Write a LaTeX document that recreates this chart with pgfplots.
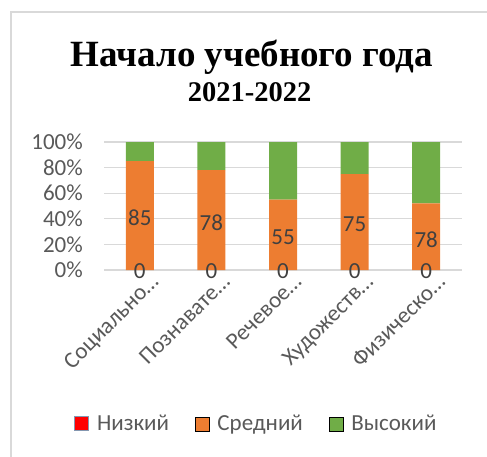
\documentclass[border=0pt]{standalone}
\usepackage{pgfplots}
\pgfplotsset{compat=1.18}
\usepackage{pgfplotstable}
\usepackage{fontspec}
\setmainfont{Carlito}
\newfontfamily\titlefont{Liberation Serif}
\definecolor{cOrange}{HTML}{ED7D31}
\definecolor{cGreen}{HTML}{70AD47}
\definecolor{cRed}{HTML}{FF0000}
\definecolor{cBorder}{HTML}{8497B0}
\definecolor{cGrid}{HTML}{D9D9D9}
\definecolor{cTick}{HTML}{595959}
\definecolor{cLab}{HTML}{404040}
\definecolor{cFrame}{HTML}{D9D9D9}
\pgfplotstableread{
x low mid high lab
0 0 85 15 85
1 0 78 22 78
2 0 55 45 55
3 0 75 25 75
4 0 52 48 78
}\datatable
\begin{document}
\begin{tikzpicture}[x=1pt,y=1pt]
\useasboundingbox (0,0) rectangle (487,456);
\draw[cFrame, line width=1.2pt] (11,-30) -- (11,444) -- (560,444);
\node[font=\titlefont\bfseries\fontsize{37}{40}\selectfont, anchor=base] at (252,389) {Начало учебного года};
\node[font=\titlefont\bfseries\fontsize{28.5}{30}\selectfont, anchor=base] at (249.7,354.3) {2021-2022};
\begin{axis}[
  at={(104pt,186pt)}, anchor=south west,
  scale only axis, width=358pt, height=128pt,
  ybar stacked, bar width=28pt,
  xmin=-0.5, xmax=4.5, ymin=0, ymax=100,
  xtick={0,1,2,3,4},
  xticklabels={Социально…, Познавате…, Речевое…, Художеств…, Физическо…},
  ytick={0,20,40,60,80,100},
  yticklabel={\pgfmathprintnumber{\tick}\%},
  ymajorgrids, major grid style={cGrid, line width=1.3pt},
  axis line style={draw=none},
  major tick length=0pt,
  tick label style={font=\fontsize{23}{26}\selectfont, text=cTick},
  /pgf/number format/assume math mode=true,
  xticklabel style={rotate=45, anchor=north east, xshift=5pt, yshift=-8pt, inner sep=0pt},
  yticklabel style={anchor=east, xshift=-21pt, inner sep=0pt},
  legend image code/.code={\draw[#1] (0pt,-7pt) rectangle (14pt,7pt);},
  legend style={at={(0.4246,-1.201)}, anchor=center, draw=none, fill=none,
    font=\fontsize{23}{26}\selectfont, text=cTick,
    /tikz/every odd column/.append style={column sep=6pt},
    /tikz/every even column/.append style={column sep=24pt}},
  legend columns=3,
]
\addplot[fill=cRed, draw=none, forget plot] table[x=x,y=low]{\datatable};
\addplot[fill=cOrange, draw=none, forget plot] table[x=x,y=mid]{\datatable};
\addplot[fill=cGreen, draw=none, forget plot] table[x=x,y=high]{\datatable};
\addlegendimage{fill=cRed, draw=cBorder, line width=1.5pt}
\addlegendentry{Низкий}
\addlegendimage{fill=cOrange, draw=none}
\addlegendentry{Средний}
\addlegendimage{fill=cGreen, draw=none}
\addlegendentry{Высокий}
\end{axis}
\begin{axis}[
  at={(104pt,186pt)}, anchor=south west,
  scale only axis, width=358pt, height=128pt,
  xmin=-0.5, xmax=4.5, ymin=0, ymax=100,
  hide axis, clip=false,
  nodes near coords style={anchor=center, font=\fontsize{23}{26}\selectfont, text=cLab},
]
\addplot[draw=none, mark=none, nodes near coords, point meta=explicit symbolic]
  table[x=x, y expr=\thisrow{mid}/2-2, meta=lab]{\datatable};
\addplot[draw=none, mark=none, nodes near coords, point meta=explicit symbolic]
  table[x=x, y expr=\thisrow{low}-1.2, meta=low]{\datatable};
\end{axis}
\end{tikzpicture}
\end{document}
